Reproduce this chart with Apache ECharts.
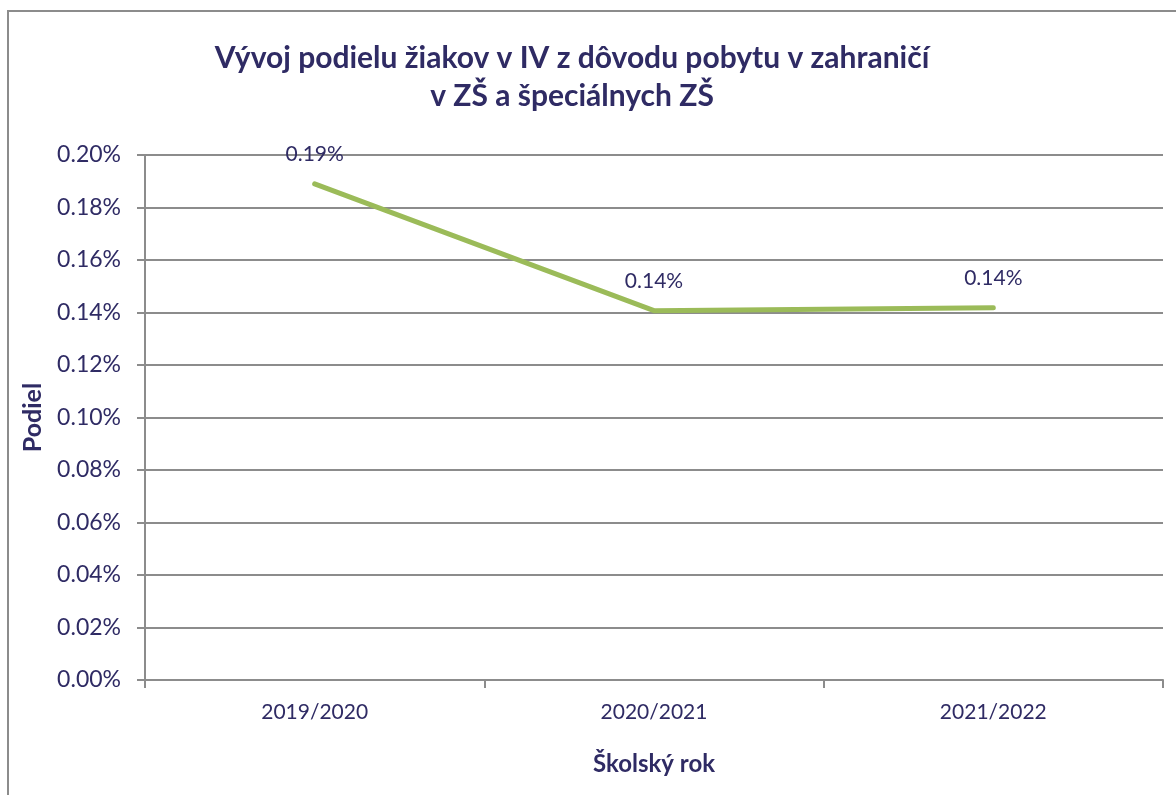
<!DOCTYPE html>
<html>
<head>
<meta charset="utf-8">
<script src="https://cdn.jsdelivr.net/npm/echarts@6/dist/echarts.min.js"></script>
<style>
  html, body { margin: 0; padding: 0; background: #fff; }
  #chart { width: 1176px; height: 795px; }
</style>
</head>
<body>
<div id="chart"></div>
<script>
// školské roky
const years = ['2019/2020', '2020/2021', '2021/2022']
// podiel žiakov v IV (v %)
const shares = [0.189, 0.1407, 0.1418]
const shareLabels = ['0.19%', '0.14%', '0.14%']

const navy = '#2f2b64'
const font = 'Lato, "Open Sans", sans-serif'

const chart = echarts.init(document.getElementById('chart'), null, { renderer: 'canvas' })

const option = {
  backgroundColor: '#fff',
  animation: false,
  title: {
    text: 'Vývoj podielu žiakov v IV z dôvodu pobytu v zahraničí\nv ZŠ a špeciálnych ZŠ',
    left: 567,
    top: 34,
    textAlign: 'center',
    textStyle: {
      color: navy,
      fontFamily: font,
      fontWeight: 'bold',
      fontSize: 30,
      lineHeight: 38,
      align: 'center'
    }
  },
  graphic: [
    {
      type: 'rect',
      shape: { x: 8, y: 11, width: 1200, height: 820 },
      style: { fill: 'none', stroke: '#8c8c8c', lineWidth: 2 },
      silent: true,
      z: -1
    }
  ],
  grid: { left: 145, top: 155, right: 13, bottom: 115 },
  xAxis: {
    type: 'category',
    data: years,
    boundaryGap: true,
    name: 'Školský rok',
    nameLocation: 'middle',
    nameGap: 72,
    nameTextStyle: { color: navy, fontFamily: font, fontWeight: 'bold', fontSize: 24 },
    axisLine: { lineStyle: { color: '#8c8c8c', width: 2 } },
    axisTick: { show: true, inside: false, length: 8, alignWithLabel: false, lineStyle: { color: '#8c8c8c', width: 2 } },
    axisLabel: { color: navy, fontFamily: font, fontSize: 21, margin: 22 }
  },
  yAxis: {
    type: 'value',
    min: 0,
    max: 0.2,
    interval: 0.02,
    name: 'Podiel',
    nameLocation: 'middle',
    nameGap: 100,
    nameTextStyle: { color: navy, fontFamily: font, fontWeight: 'bold', fontSize: 25 },
    axisLine: { show: true, lineStyle: { color: '#8c8c8c', width: 2 } },
    axisTick: { show: true, length: 8, lineStyle: { color: '#8c8c8c', width: 2 } },
    axisLabel: {
      color: navy,
      fontFamily: font,
      fontSize: 23,
      margin: 24,
      formatter: v => v.toFixed(2) + '%'
    },
    splitLine: { show: true, lineStyle: { color: '#8c8c8c', width: 2 } }
  },
  series: [
    {
      type: 'line',
      data: shares,
      showSymbol: true,
      symbol: 'circle',
      symbolSize: 2,
      itemStyle: { color: 'rgba(155,187,89,0)', borderWidth: 0 },
      lineStyle: { color: '#9bbb59', width: 5, cap: 'round', join: 'round' },
      label: {
        show: true,
        position: 'top',
        distance: 18,
        color: navy,
        fontFamily: font,
        fontSize: 21,
        formatter: p => shareLabels[p.dataIndex]
      }
    }
  ]
}

option && chart.setOption(option)
</script>
</body>
</html>
